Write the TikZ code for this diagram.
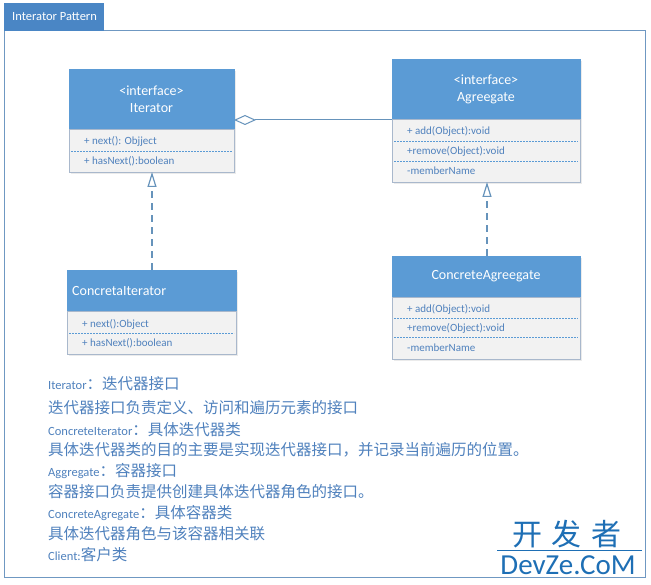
\documentclass[tikz,border=0pt]{standalone}
\usepackage{fontspec}
\setmainfont{Carlito}
\newfontfamily\cjkf{Noto Sans CJK SC}
\newcommand\cjk{\cjkf\fontsize{15.5}{15.5}\selectfont}
\usetikzlibrary{arrows.meta}
\definecolor{hdr}{HTML}{5B9BD5}
\definecolor{tab}{HTML}{4A86C5}
\definecolor{frm}{HTML}{6F98C2}
\definecolor{cmp}{HTML}{F2F2F2}
\definecolor{txt}{HTML}{4F81BD}
\definecolor{edge}{HTML}{A9B8CC}
\definecolor{wm}{HTML}{1E6FB5}
\tikzset{
 hdrbox/.style={fill=hdr,draw=hdr},
 cmpbox/.style={fill=cmp,draw=edge,line width=0.6pt},
 member/.style={anchor=west,text=txt,font=\fontsize{11}{11}\selectfont,inner sep=0pt},
 sep/.style={draw=hdr,dashed,dash pattern=on 2pt off 1pt,line width=0.6pt},
 title/.style={text=white,font=\fontsize{14}{17}\selectfont,align=center,inner sep=0pt},
 link/.style={draw=hdr!70!gray,line width=1.2pt,dash pattern=on 7pt off 5pt},
 desc/.style={anchor=west,text=txt,font=\fontsize{12.5}{12.5}\selectfont,inner sep=0pt}
}
\begin{document}
\begin{tikzpicture}[x=1pt,y=-1pt]
\useasboundingbox (0,0) rectangle (651,585);
\fill[white] (0,0) rectangle (651,585);
% frame
\draw[frm,line width=1pt] (4,31) rectangle (645,577);
\fill[tab] (4,3) rectangle (104,31);
\node[text=white,anchor=west,inner sep=0pt,font=\fontsize{12.5}{12.5}\selectfont] (ttl) at (12,17) {Interator Pattern};
% Iterator
\fill[black!8] (71,71) rectangle (236,174);
\path[hdrbox] (69,69) rectangle (234,129);
\path[cmpbox] (69,129) rectangle (234,172);
\node[title] (it) at (151.5,99) {<interface>\\Iterator};
\node[member] (itn) at (84,141) {+ next(): Objject};
\draw[sep] (71,151) -- (232,151);
\node[member] (ith) at (84,161) {+ hasNext():boolean};
\coordinate (itb) at (152,172);
\coordinate (itr) at (234,120);
% Agreegate
\fill[black!8] (394,61) rectangle (582,184);
\path[hdrbox] (392,59) rectangle (580,119);
\path[cmpbox] (392,119) rectangle (580,182);
\node[title] (ag) at (486,89) {<interface>\\Agreegate};
\node[member] (aga) at (407,131) {+ add(Object):void};
\draw[sep] (394,141) -- (578,141);
\node[member] (agr) at (407,151) {+remove(Object):void};
\draw[sep] (394,161) -- (578,161);
\node[member] (agm) at (407,171) {-memberName};
\coordinate (agb) at (487,182);
\coordinate (agl) at (392,120);
% ConcretIterator
\fill[black!8] (69,272) rectangle (238,356);
\path[hdrbox] (67,270) rectangle (236,311);
\path[cmpbox] (67,311) rectangle (236,354);
\node[title,anchor=west] (ci) at (72,291) {ConcretaIterator};
\node[member] (cin) at (82,324) {+ next():Object};
\draw[sep] (69,333) -- (234,333);
\node[member] (cih) at (82,343) {+ hasNext():boolean};
\coordinate (cit) at (152,270);
% ConcreteAgreegate
\fill[black!8] (394,258) rectangle (582,361);
\path[hdrbox] (392,256) rectangle (580,297);
\path[cmpbox] (392,297) rectangle (580,359);
\node[title] (ca) at (486,276) {ConcreteAgreegate};
\node[member] (caa) at (407,309) {+ add(Object):void};
\draw[sep] (394,318) -- (578,318);
\node[member] (car) at (407,328) {+remove(Object):void};
\draw[sep] (394,337) -- (578,337);
\node[member] (cam) at (407,348) {-memberName};
\coordinate (cat) at (487,256);
% connectors
\draw[link,-{Triangle[open,length=15pt,width=9pt,fill=white]}] (cit) -- (itb);
\draw[link,-{Triangle[open,length=15pt,width=9pt,fill=white]}] (cat) -- (agb);
\draw[draw=hdr!70!gray,line width=1pt,-{Diamond[open,length=22pt,width=10pt,fill=white]}] (agl) -- (itr);
% description
\node[desc] (d1) at (48,384) {Iterator{\cjk：迭代器接口}};
\node[desc] (d2) at (48,408) {\cjk 迭代器接口负责定义、访问和遍历元素的接口};
\node[desc] (d3) at (48,430) {ConcreteIterator{\cjk：具体迭代器类}};
\node[desc] (d4) at (48,450) {\cjk 具体迭代器类的目的主要是实现迭代器接口，并记录当前遍历的位置。};
\node[desc] (d5) at (48,471) {Aggregate{\cjk：容器接口}};
\node[desc] (d6) at (48,492) {\cjk 容器接口负责提供创建具体迭代器角色的接口。};
\node[desc] (d7) at (48,513) {ConcreteAgregate{\cjk：具体容器类}};
\node[desc] (d8) at (48,534) {\cjk 具体迭代器角色与该容器相关联};
\node[desc] (d9) at (48,555) {Client:{\cjk 客户类}};
% watermark
\node[text=wm,font=\cjkf\fontsize{30}{30}\selectfont,inner sep=0pt] (w1) at (567,534) {开\,\,发\,\,者};
\draw[wm,line width=0.6pt] (497,550) -- (642,550);
\node[text=wm,font=\fontsize{29}{29}\selectfont,inner sep=0pt] (w2) at (568,565) {DevZe.CoM};
\end{tikzpicture}
\end{document}
